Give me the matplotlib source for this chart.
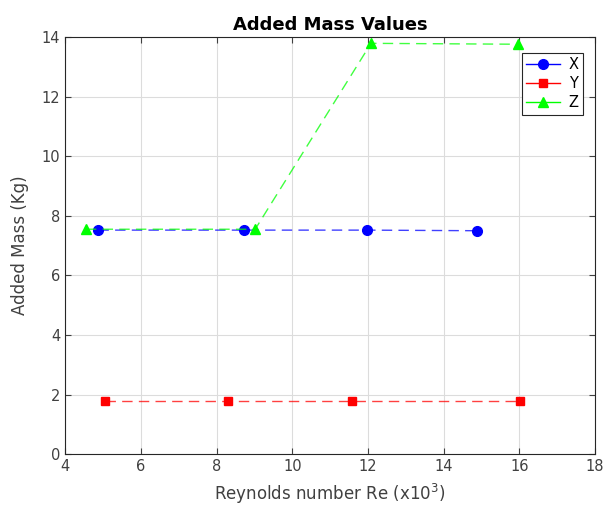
import matplotlib
matplotlib.use('Agg')
from matplotlib import pyplot as plt
from matplotlib.lines import Line2D

# Reynolds number (x10^3) and added mass (Kg) for each axis
re_x = [4.88, 8.73, 11.98, 14.89]
mass_x = [7.52, 7.52, 7.52, 7.50]
re_y = [5.06, 8.31, 11.57, 16.02]
mass_y = [1.78, 1.78, 1.78, 1.78]
re_z = [4.55, 9.02, 12.08, 15.97]
mass_z = [7.55, 7.55, 13.79, 13.76]

labels = ['X', 'Y', 'Z']
colors = ['#0000ff', '#ff0000', '#00ff00']
markers = ['o', 's', '^']
msizes = [7, 5.5, 7]

plt.rcParams['font.family'] = 'DejaVu Sans'
fig = plt.figure(figsize=(6.03, 5.08), dpi=100)
ax = fig.add_axes([0.108, 0.106, 0.879, 0.821])

series = [(re_x, mass_x), (re_y, mass_y), (re_z, mass_z)]
for i, (xs, ys) in enumerate(series):
    # dashed line drawn a little lighter, markers on top at full colour
    ax.plot(xs, ys, '--', color=colors[i], linewidth=1.0, dashes=(7.5, 4.5), alpha=0.75)
    ax.plot(xs, ys, linestyle='none', color=colors[i], marker=markers[i],
            markersize=msizes[i])

ax.set_xlim(4, 18)
ax.set_ylim(0, 14)
ax.set_xticks(range(4, 19, 2))
ax.set_yticks(range(0, 15, 2))
ax.grid(True, color='#dcdcdc', linewidth=0.8)
ax.set_axisbelow(True)
ax.tick_params(direction='in', top=True, right=True, labelsize=10.5,
               colors='#404040', length=4)
for s in ax.spines.values():
    s.set_color('#262626')
    s.set_linewidth(0.8)

ax.set_title('Added Mass Values', fontsize=13, fontweight='bold', pad=5)
ax.set_xlabel('Reynolds number Re (x10$^3$)', fontsize=12, color='#404040', labelpad=6)
ax.set_ylabel('Added Mass (Kg)', fontsize=12, color='#404040', labelpad=9)

handles = [Line2D([0], [0], color=colors[i], marker=markers[i], markersize=msizes[i],
                  linewidth=1.0) for i in range(3)]
leg = ax.legend(handles, labels, loc='upper right', bbox_to_anchor=(0.977, 0.962),
                borderaxespad=0, fontsize=10.5, fancybox=False, handlelength=2.3,
                borderpad=0.3, labelspacing=0.27, handletextpad=0.6, framealpha=1)
leg.get_frame().set_edgecolor('#262626')
leg.get_frame().set_linewidth(0.8)

fig.savefig('out.png', dpi=100)
